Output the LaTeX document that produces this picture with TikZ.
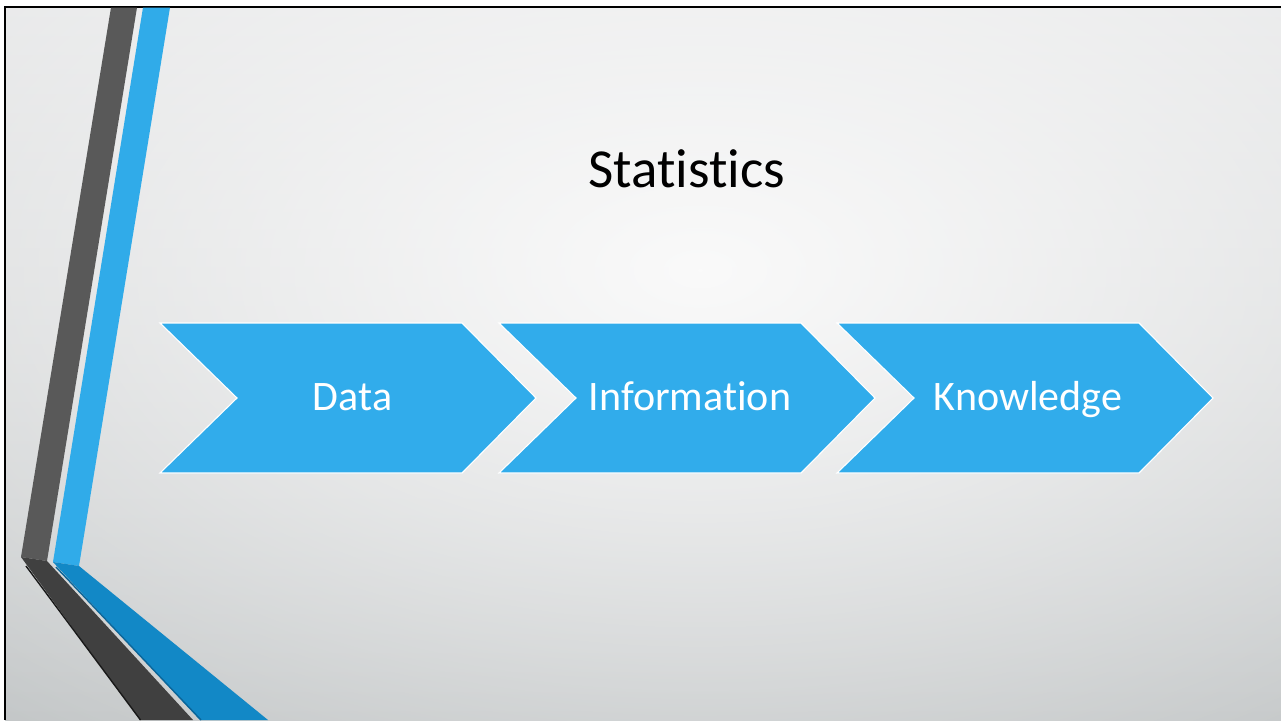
\documentclass[tikz,border=0pt]{standalone}
\usepackage{fontspec}
\setmainfont{Carlito}[Ligatures=NoCommon]
\usetikzlibrary{fadings}
\definecolor{bgtop}{HTML}{E2E3E4}
\definecolor{bgbot}{HTML}{BABEBF}
\definecolor{glowc}{HTML}{FAFAFA}
\definecolor{chevblue}{HTML}{31ACEB}
\definecolor{stripgray}{HTML}{595959}
\definecolor{stripdark}{HTML}{404040}
\definecolor{stripblue}{HTML}{30ABE9}
\definecolor{stripbluedark}{HTML}{1288C6}
\definecolor{stripblueshadow}{HTML}{0B6598}
\tikzfading[name=glowfade, inner color=transparent!0, outer color=transparent!100]
\tikzset{
  chev/.style={fill=chevblue, draw=white, line width=1.1pt, line join=miter},
  chevtext/.style={text=white, font=\fontsize{42}{48}\selectfont, anchor=base, inner sep=0pt},
  titletext/.style={text=black, font=\fontsize{55}{60}\selectfont, anchor=base, inner sep=0pt},
}
\begin{document}
\begin{tikzpicture}[x=1pt,y=-1pt]
\useasboundingbox (0,0) rectangle (1281,720);
\fill[white] (0,0) rectangle (1281,720);
% background
\begin{scope}
\clip (5,6.5) rectangle (1281,720);
\shade[top color=bgtop, bottom color=bgbot] (5,6.5) rectangle (1281,720);
\fill[glowc, path fading=glowfade] (700,270) ellipse (1250 and 700);
\end{scope}
% frame
\draw[black, line width=2pt] (5,720) -- (5,6.5) -- (1281,6.5);
% left decoration
\fill[stripgray] (111,7.5) -- (137,7.5) -- (47,561) -- (21,557) -- cycle;
\fill[stripblue] (143,7.5) -- (170,7.5) -- (79,566) -- (53,562) -- cycle;
\fill[stripdark] (21,557) -- (47,561) -- (193,720) -- (140,720) -- cycle;
\draw[black!90, line width=1.4pt] (26,566) -- (140.5,720);
\fill[stripbluedark] (53,562) -- (79,566) -- (268,720) -- (200,720) -- cycle;
\draw[stripblueshadow, line width=1.4pt] (56,567) -- (201,720);
% chevrons
\draw[chev] (160,323) -- (462,323) -- (536,398) -- (462,473) -- (160,473) -- (237,398) -- cycle;
\draw[chev] (499,323) -- (801,323) -- (875,398) -- (801,473) -- (499,473) -- (576,398) -- cycle;
\draw[chev] (837,323) -- (1139,323) -- (1213,398) -- (1139,473) -- (837,473) -- (914,398) -- cycle;
% texts
\node[titletext] (title) at (687,187) {Statistics};
\node[chevtext] (data) at (352.5,410) {Data};
\node[chevtext] (info) at (690,410) {Information};
\node[chevtext] (know) at (1028,410) {Knowledge};
\end{tikzpicture}
\end{document}
